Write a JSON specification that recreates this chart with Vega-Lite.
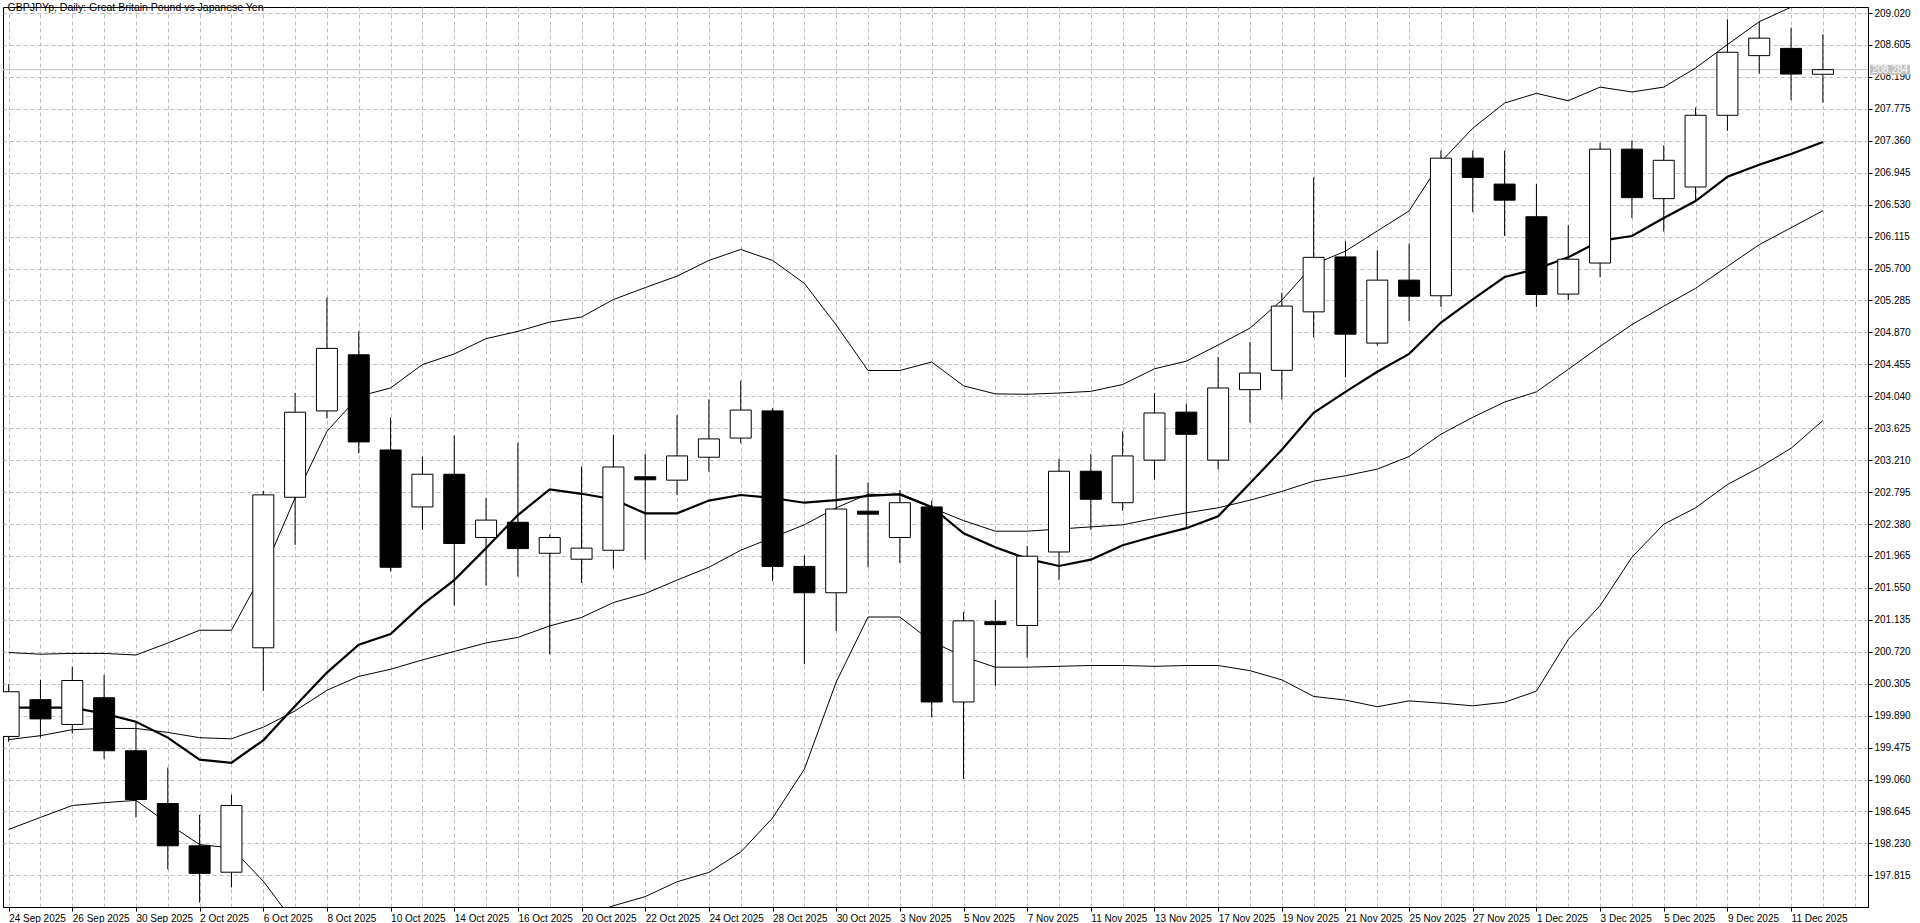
{
  "$schema": "https://vega.github.io/schema/vega-lite/v6.json",
  "width": 1865,
  "height": 900,
  "padding": {"left": 2, "top": 2, "right": 0, "bottom": 0},
  "background": "white",
  "title": {
    "text": "GBPJPYp, Daily:  Great Britain Pound vs Japanese Yen",
    "anchor": "start",
    "orient": "top",
    "offset": -14,
    "dx": 5,
    "baseline": "alphabetic",
    "font": "Liberation Sans",
    "fontSize": 10.5,
    "fontWeight": "normal",
    "color": "black"
  },
  "datasets": {
    "candles": [
      {"i": 0, "d": "24 Sep 2025", "o": 199.620, "h": 200.300, "l": 199.550, "c": 200.201, "up": 200.710, "mid": 199.579, "lo": 198.412, "ma": 199.994},
      {"i": 1, "d": "25 Sep 2025", "o": 200.098, "h": 200.357, "l": 199.605, "c": 199.848, "up": 200.689, "mid": 199.630, "lo": 198.568, "ma": 199.994},
      {"i": 2, "d": "26 Sep 2025", "o": 199.776, "h": 200.523, "l": 199.656, "c": 200.347, "up": 200.699, "mid": 199.708, "lo": 198.723, "ma": 199.994},
      {"i": 3, "d": "29 Sep 2025", "o": 200.123, "h": 200.419, "l": 199.330, "c": 199.434, "up": 200.699, "mid": 199.724, "lo": 198.759, "ma": 199.916},
      {"i": 4, "d": "30 Sep 2025", "o": 199.434, "h": 199.797, "l": 198.567, "c": 198.801, "up": 200.678, "mid": 199.724, "lo": 198.790, "ma": 199.812},
      {"i": 5, "d": "1 Oct 2025", "o": 198.749, "h": 199.216, "l": 197.893, "c": 198.199, "up": 200.834, "mid": 199.672, "lo": 198.490, "ma": 199.605},
      {"i": 6, "d": "2 Oct 2025", "o": 198.199, "h": 198.604, "l": 197.462, "c": 197.841, "up": 201.000, "mid": 199.604, "lo": 198.215, "ma": 199.319},
      {"i": 7, "d": "3 Oct 2025", "o": 197.856, "h": 198.863, "l": 197.659, "c": 198.723, "up": 201.000, "mid": 199.589, "lo": 198.172, "ma": 199.278},
      {"i": 8, "d": "6 Oct 2025", "o": 200.772, "h": 202.811, "l": 200.212, "c": 202.759, "up": 201.760, "mid": 199.740, "lo": 197.740, "ma": 199.570},
      {"i": 9, "d": "7 Oct 2025", "o": 202.728, "h": 204.082, "l": 202.110, "c": 203.833, "up": 202.720, "mid": 199.952, "lo": 197.187, "ma": 200.015},
      {"i": 10, "d": "8 Oct 2025", "o": 203.850, "h": 205.325, "l": 203.751, "c": 204.662, "up": 203.585, "mid": 200.220, "lo": 196.855, "ma": 200.450},
      {"i": 11, "d": "9 Oct 2025", "o": 204.579, "h": 204.883, "l": 203.298, "c": 203.447, "up": 204.038, "mid": 200.400, "lo": 196.760, "ma": 200.813},
      {"i": 12, "d": "10 Oct 2025", "o": 203.342, "h": 203.762, "l": 201.763, "c": 201.818, "up": 204.148, "mid": 200.493, "lo": 196.840, "ma": 200.951},
      {"i": 13, "d": "13 Oct 2025", "o": 202.602, "h": 203.254, "l": 202.304, "c": 203.027, "up": 204.452, "mid": 200.614, "lo": 196.780, "ma": 201.332},
      {"i": 14, "d": "14 Oct 2025", "o": 203.027, "h": 203.530, "l": 201.321, "c": 202.127, "up": 204.590, "mid": 200.725, "lo": 196.860, "ma": 201.652},
      {"i": 15, "d": "15 Oct 2025", "o": 202.205, "h": 202.718, "l": 201.581, "c": 202.431, "up": 204.789, "mid": 200.835, "lo": 196.880, "ma": 202.067},
      {"i": 16, "d": "16 Oct 2025", "o": 202.403, "h": 203.436, "l": 201.697, "c": 202.061, "up": 204.883, "mid": 200.907, "lo": 196.930, "ma": 202.497},
      {"i": 17, "d": "17 Oct 2025", "o": 202.000, "h": 202.243, "l": 200.686, "c": 202.205, "up": 205.004, "mid": 201.056, "lo": 197.110, "ma": 202.829},
      {"i": 18, "d": "20 Oct 2025", "o": 201.923, "h": 203.127, "l": 201.614, "c": 202.067, "up": 205.070, "mid": 201.166, "lo": 197.260, "ma": 202.773},
      {"i": 19, "d": "21 Oct 2025", "o": 202.039, "h": 203.541, "l": 201.801, "c": 203.121, "up": 205.297, "mid": 201.360, "lo": 197.420, "ma": 202.702},
      {"i": 20, "d": "22 Oct 2025", "o": 202.994, "h": 203.292, "l": 201.917, "c": 202.955, "up": 205.452, "mid": 201.476, "lo": 197.539, "ma": 202.519},
      {"i": 21, "d": "23 Oct 2025", "o": 202.950, "h": 203.795, "l": 202.757, "c": 203.265, "up": 205.601, "mid": 201.652, "lo": 197.732, "ma": 202.519},
      {"i": 22, "d": "24 Oct 2025", "o": 203.248, "h": 203.999, "l": 203.061, "c": 203.486, "up": 205.805, "mid": 201.818, "lo": 197.853, "ma": 202.685},
      {"i": 23, "d": "27 Oct 2025", "o": 203.497, "h": 204.242, "l": 203.430, "c": 203.861, "up": 205.948, "mid": 202.039, "lo": 198.118, "ma": 202.757},
      {"i": 24, "d": "28 Oct 2025", "o": 203.850, "h": 203.883, "l": 201.641, "c": 201.829, "up": 205.805, "mid": 202.205, "lo": 198.560, "ma": 202.718},
      {"i": 25, "d": "29 Oct 2025", "o": 201.829, "h": 201.973, "l": 200.559, "c": 201.487, "up": 205.507, "mid": 202.370, "lo": 199.195, "ma": 202.657},
      {"i": 26, "d": "30 Oct 2025", "o": 201.487, "h": 203.281, "l": 200.990, "c": 202.575, "up": 204.966, "mid": 202.591, "lo": 200.327, "ma": 202.690},
      {"i": 27, "d": "31 Oct 2025", "o": 202.547, "h": 202.922, "l": 201.818, "c": 202.508, "up": 204.375, "mid": 202.768, "lo": 201.172, "ma": 202.746},
      {"i": 28, "d": "3 Nov 2025", "o": 202.205, "h": 202.823, "l": 201.873, "c": 202.657, "up": 204.375, "mid": 202.757, "lo": 201.172, "ma": 202.768},
      {"i": 29, "d": "4 Nov 2025", "o": 202.602, "h": 202.685, "l": 199.869, "c": 200.068, "up": 204.485, "mid": 202.591, "lo": 200.852, "ma": 202.602},
      {"i": 30, "d": "5 Nov 2025", "o": 200.068, "h": 201.238, "l": 199.068, "c": 201.122, "up": 204.176, "mid": 202.425, "lo": 200.658, "ma": 202.260},
      {"i": 31, "d": "6 Nov 2025", "o": 201.111, "h": 201.393, "l": 200.272, "c": 201.073, "up": 204.071, "mid": 202.287, "lo": 200.520, "ma": 202.078},
      {"i": 32, "d": "7 Nov 2025", "o": 201.062, "h": 202.094, "l": 200.642, "c": 201.962, "up": 204.066, "mid": 202.287, "lo": 200.520, "ma": 201.928},
      {"i": 33, "d": "10 Nov 2025", "o": 202.017, "h": 203.226, "l": 201.652, "c": 203.066, "up": 204.082, "mid": 202.315, "lo": 200.531, "ma": 201.835},
      {"i": 34, "d": "11 Nov 2025", "o": 203.066, "h": 203.292, "l": 202.304, "c": 202.702, "up": 204.104, "mid": 202.343, "lo": 200.542, "ma": 201.917},
      {"i": 35, "d": "12 Nov 2025", "o": 202.657, "h": 203.585, "l": 202.552, "c": 203.265, "up": 204.193, "mid": 202.370, "lo": 200.542, "ma": 202.105},
      {"i": 36, "d": "13 Nov 2025", "o": 203.210, "h": 204.082, "l": 202.961, "c": 203.823, "up": 204.397, "mid": 202.453, "lo": 200.531, "ma": 202.221},
      {"i": 37, "d": "14 Nov 2025", "o": 203.834, "h": 203.944, "l": 202.326, "c": 203.546, "up": 204.496, "mid": 202.525, "lo": 200.542, "ma": 202.326},
      {"i": 38, "d": "17 Nov 2025", "o": 203.210, "h": 204.551, "l": 203.088, "c": 204.148, "up": 204.706, "mid": 202.591, "lo": 200.542, "ma": 202.481},
      {"i": 39, "d": "18 Nov 2025", "o": 204.126, "h": 204.745, "l": 203.696, "c": 204.342, "up": 204.925, "mid": 202.690, "lo": 200.475, "ma": 202.910},
      {"i": 40, "d": "19 Nov 2025", "o": 204.377, "h": 205.387, "l": 203.999, "c": 205.212, "up": 205.288, "mid": 202.804, "lo": 200.355, "ma": 203.344},
      {"i": 41, "d": "20 Nov 2025", "o": 205.137, "h": 206.884, "l": 204.806, "c": 205.845, "up": 205.752, "mid": 202.937, "lo": 200.140, "ma": 203.825},
      {"i": 42, "d": "21 Nov 2025", "o": 205.851, "h": 206.054, "l": 204.290, "c": 204.847, "up": 205.926, "mid": 203.007, "lo": 200.093, "ma": 204.098},
      {"i": 43, "d": "24 Nov 2025", "o": 204.731, "h": 205.938, "l": 204.700, "c": 205.549, "up": 206.188, "mid": 203.094, "lo": 200.006, "ma": 204.359},
      {"i": 44, "d": "25 Nov 2025", "o": 205.549, "h": 206.025, "l": 205.015, "c": 205.340, "up": 206.449, "mid": 203.257, "lo": 200.082, "ma": 204.591},
      {"i": 45, "d": "26 Nov 2025", "o": 205.346, "h": 207.232, "l": 205.201, "c": 207.134, "up": 207.087, "mid": 203.547, "lo": 200.053, "ma": 204.998},
      {"i": 46, "d": "27 Nov 2025", "o": 207.134, "h": 207.232, "l": 206.431, "c": 206.884, "up": 207.523, "mid": 203.767, "lo": 200.018, "ma": 205.300},
      {"i": 47, "d": "28 Nov 2025", "o": 206.797, "h": 207.232, "l": 206.124, "c": 206.588, "up": 207.850, "mid": 203.965, "lo": 200.064, "ma": 205.590},
      {"i": 48, "d": "1 Dec 2025", "o": 206.373, "h": 206.797, "l": 205.201, "c": 205.363, "up": 207.976, "mid": 204.098, "lo": 200.209, "ma": 205.694},
      {"i": 49, "d": "2 Dec 2025", "o": 205.368, "h": 206.262, "l": 205.286, "c": 205.821, "up": 207.880, "mid": 204.390, "lo": 200.880, "ma": 205.845},
      {"i": 50, "d": "3 Dec 2025", "o": 205.771, "h": 207.332, "l": 205.588, "c": 207.251, "up": 208.057, "mid": 204.688, "lo": 201.319, "ma": 206.060},
      {"i": 51, "d": "4 Dec 2025", "o": 207.251, "h": 207.364, "l": 206.356, "c": 206.621, "up": 207.994, "mid": 204.971, "lo": 201.949, "ma": 206.123},
      {"i": 52, "d": "5 Dec 2025", "o": 206.608, "h": 207.301, "l": 206.180, "c": 207.106, "up": 208.057, "mid": 205.210, "lo": 202.377, "ma": 206.356},
      {"i": 53, "d": "8 Dec 2025", "o": 206.759, "h": 207.792, "l": 206.577, "c": 207.691, "up": 208.305, "mid": 205.443, "lo": 202.591, "ma": 206.577},
      {"i": 54, "d": "9 Dec 2025", "o": 207.691, "h": 208.938, "l": 207.490, "c": 208.510, "up": 208.610, "mid": 205.727, "lo": 202.893, "ma": 206.892},
      {"i": 55, "d": "10 Dec 2025", "o": 208.466, "h": 208.907, "l": 208.233, "c": 208.693, "up": 208.907, "mid": 206.010, "lo": 203.113, "ma": 207.049},
      {"i": 56, "d": "11 Dec 2025", "o": 208.560, "h": 208.831, "l": 207.887, "c": 208.227, "up": 209.095, "mid": 206.230, "lo": 203.365, "ma": 207.188},
      {"i": 57, "d": "12 Dec 2025", "o": 208.224, "h": 208.745, "l": 207.855, "c": 208.284, "up": 209.180, "mid": 206.451, "lo": 203.724, "ma": 207.345}
    ]
  },
  "data": {"name": "candles"},
  "encoding": {
    "x": {
      "field": "i",
      "type": "quantitative",
      "title": null,
      "scale": {"domain": [-0.02, 58.26], "nice": false, "zero": false},
      "axis": {
        "values": [0,1,2,3,4,5,6,7,8,9,10,11,12,13,14,15,16,17,18,19,20,21,22,23,24,25,26,27,28,29,30,31,32,33,34,35,36,37,38,39,40,41,42,43,44,45,46,47,48,49,50,51,52,53,54,55,56,57,58],
        "labelExpr": "datum.value % 2 === 0 && datum.value <= 56 ? ['24 Sep 2025','26 Sep 2025','30 Sep 2025','2 Oct 2025','6 Oct 2025','8 Oct 2025','10 Oct 2025','14 Oct 2025','16 Oct 2025','20 Oct 2025','22 Oct 2025','24 Oct 2025','28 Oct 2025','30 Oct 2025','3 Nov 2025','5 Nov 2025','7 Nov 2025','11 Nov 2025','13 Nov 2025','17 Nov 2025','19 Nov 2025','21 Nov 2025','25 Nov 2025','27 Nov 2025','1 Dec 2025','3 Dec 2025','5 Dec 2025','9 Dec 2025','11 Dec 2025'][datum.value / 2] : ''",
        "labelAlign": "left",
        "labelBaseline": "top",
        "labelFlush": false,
        "labelOverlap": false,
        "labelBound": false,
        "labelPadding": 2,
        "labelFont": "Liberation Sans",
        "labelFontSize": 10,
        "labelColor": "black",
        "tickSize": 4,
        "tickColor": "black",
        "tickOpacity": {"condition": {"test": "datum.value % 2 === 0 && datum.value <= 56", "value": 1}, "value": 0},
        "domainColor": "black",
        "grid": true,
        "gridColor": "#bdbdbd",
        "gridDash": [4, 3],
        "gridWidth": 1
      }
    },
    "y": {
      "type": "quantitative",
      "title": null,
      "scale": {"domain": [197.404, 209.098], "nice": false, "zero": false},
      "axis": {
        "orient": "right",
        "values": [197.815, 198.23, 198.645, 199.06, 199.475, 199.89, 200.305, 200.72, 201.135, 201.55, 201.965, 202.38, 202.795, 203.21, 203.625, 204.04, 204.455, 204.87, 205.285, 205.7, 206.115, 206.53, 206.945, 207.36, 207.775, 208.19, 208.605, 209.02],
        "format": ".3f",
        "labelFont": "Liberation Sans",
        "labelFontSize": 10,
        "labelColor": "black",
        "labelPadding": 2,
        "labelOverlap": false,
        "labelFlush": false,
        "labelBound": false,
        "tickSize": 4,
        "tickColor": "black",
        "domainColor": "black",
        "grid": true,
        "gridColor": "#bdbdbd",
        "gridDash": [4, 3],
        "gridWidth": 1
      }
    }
  },
  "layer": [
    {
      "mark": {"type": "rule", "color": "#c0c0c0", "strokeWidth": 1},
      "transform": [{"filter": "datum.i === 57"}],
      "encoding": {
        "x": null,
        "y": {"field": "c", "type": "quantitative"}
      }
    },
    {
      "mark": {"type": "line", "color": "black", "strokeWidth": 1, "clip": true},
      "encoding": {"y": {"field": "up", "type": "quantitative"}}
    },
    {
      "mark": {"type": "line", "color": "black", "strokeWidth": 1, "clip": true},
      "encoding": {"y": {"field": "mid", "type": "quantitative"}}
    },
    {
      "mark": {"type": "line", "color": "black", "strokeWidth": 1, "clip": true},
      "encoding": {"y": {"field": "lo", "type": "quantitative"}}
    },
    {
      "mark": {"type": "line", "color": "black", "strokeWidth": 2.2, "clip": true},
      "encoding": {"y": {"field": "ma", "type": "quantitative"}}
    },
    {
      "mark": {"type": "rule", "color": "black", "strokeWidth": 1, "clip": true},
      "encoding": {
        "y": {"field": "l", "type": "quantitative"},
        "y2": {"field": "h"}
      }
    },
    {
      "mark": {"type": "bar", "size": 21, "stroke": "black", "strokeWidth": 1, "clip": true},
      "encoding": {
        "y": {"field": "o", "type": "quantitative"},
        "y2": {"field": "c"},
        "fill": {"condition": {"test": "datum.c >= datum.o", "value": "white"}, "value": "black"}
      }
    },
    {
      "mark": {"type": "point", "shape": "M0.2,-0.5H4.2V0.5H0.2Z", "size": 400, "filled": true, "fill": "#c0c0c0", "stroke": null, "opacity": 1},
      "transform": [{"filter": "datum.i === 57"}],
      "encoding": {
        "x": {"value": "width"},
        "y": {"field": "c", "type": "quantitative"}
      }
    },
    {
      "mark": {"type": "text", "align": "left", "baseline": "middle", "dx": 4, "font": "Liberation Sans", "fontSize": 10, "color": "white"},
      "transform": [{"filter": "datum.i === 57"}],
      "encoding": {
        "x": {"value": "width"},
        "y": {"field": "c", "type": "quantitative"},
        "text": {"field": "c", "type": "quantitative", "format": ".3f"}
      }
    }
  ],
  "config": {
    "view": {"stroke": "black", "strokeWidth": 1},
    "axis": {"domainWidth": 1, "tickWidth": 1, "labelOverlap": false},
    "axisY": {"labelOverlap": false}
  }
}
